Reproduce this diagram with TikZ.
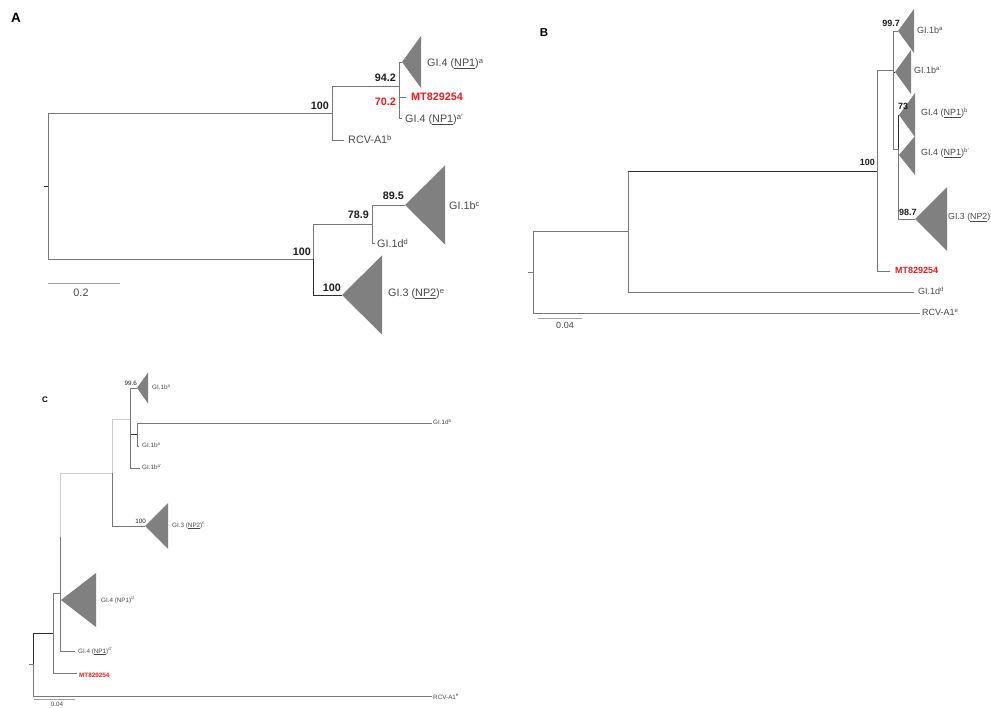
\documentclass[tikz,border=0pt]{standalone}
\usepackage{fontspec}
\setmainfont{Liberation Sans}
\definecolor{ln}{RGB}{120,120,120}
\definecolor{lnlight}{RGB}{205,205,205}
\definecolor{lndark}{RGB}{45,45,45}
\definecolor{scalegray}{RGB}{160,160,160}
\definecolor{cladefill}{RGB}{128,128,128}
\definecolor{tx}{RGB}{72,72,72}
\definecolor{bt}{RGB}{30,30,30}
\definecolor{mt}{RGB}{238,28,28}
\newcommand\fsA{\fontsize{10.8}{12}\selectfont}
\newcommand\fsB{\fontsize{9}{10}\selectfont}
\newcommand\fsC{\fontsize{6.3}{7}\selectfont}
\newcommand\spx[1]{\textsuperscript{#1}}
\begin{document}
\begin{tikzpicture}[x=1pt,y=-1pt,
  branch/.style={draw=ln,line width=0.9pt},
  branchdark/.style={draw=lndark,line width=0.9pt},
  branchC/.style={draw=ln,line width=0.6pt},
  branchClight/.style={draw=lnlight,line width=0.6pt},
  branchCdark/.style={draw=lndark,line width=0.6pt},
  scalebar/.style={draw=scalegray,line width=0.9pt},
  clade/.style={fill=cladefill},
  leaf/.style={anchor=base west,inner sep=0pt,text=tx},
  labA/.style={leaf,font=\fsA},
  labB/.style={leaf,font=\fsB},
  labC/.style={leaf,font=\fsC},
  bootA/.style={anchor=base east,inner sep=0pt,text=bt,font=\fsA\bfseries},
  bootB/.style={anchor=base east,inner sep=0pt,text=bt,font=\fsB\bfseries},
  bootC/.style={anchor=base east,inner sep=0pt,text=bt,font=\fsC},
  mtlab/.style={text=mt,font=#1\bfseries},
  panel/.style={inner sep=0pt,font=\bfseries,text=black}]
\useasboundingbox[fill=white] (0,0) rectangle (991,708);

% ---------------- Panel A ----------------
\node[panel,font=\bfseries\fontsize{13.5}{14}\selectfont] (pA) at (16,17.5) {A};
\coordinate (rA) at (48,186);
\coordinate (nA1) at (332,113);
\coordinate (nA2) at (399,86);
\coordinate (nA3) at (313,259);
\coordinate (nA4) at (372,224);
\coordinate (tA1) at (402,62);
\coordinate (tA2) at (405,205);
\coordinate (tA3) at (342,295);
\coordinate (fA1) at (406,97);
\coordinate (fA2) at (402,118);
\coordinate (fA3) at (344,140);
\coordinate (fA4) at (375,243);

\draw[branchdark] (rA) -- ++(-4,0);
\draw[branch] (rA) |- (nA1);
\draw[branch] (rA) |- (nA3);
\draw[branch] (nA1) |- (nA2);
\draw[branch] (nA1) |- (fA3);
\draw[branch] (nA2) |- (tA1);
\draw[branch] (nA2) |- (fA1);
\draw[branch] (nA2) |- (fA2);
\draw[branch] (nA3) |- (nA4);
\draw[branchdark] (nA3) |- (tA3);
\draw[branch] (nA4) |- (tA2);
\draw[branch] (nA4) |- (fA4);

\path[clade] (tA1) -- ++(19,-26) -- ++(0,52) -- cycle;
\path[clade] (tA2) -- ++(40,-39.5) -- ++(0,79) -- cycle;
\path[clade] (tA3) -- ++(40,-39.5) -- ++(0,79) -- cycle;

\node[labA] (xA1) at (427,67) {GI.4 (\underline{NP1})\spx{a}};
\node[labA,mtlab=\fsA] (xA2) at (411,101) {MT829254};
\node[labA] (xA3) at (405,123) {GI.4 (\underline{NP1})\spx{a'}};
\node[labA] (xA4) at (348,144) {RCV-A1\spx{b}};
\node[labA] (xA5) at (449,210) {GI.1b\spx{c}};
\node[labA] (xA6) at (377,248) {GI.1d\spx{d}};
\node[labA] (xA7) at (388,297) {GI.3 (\underline{NP2})\spx{e}};

\node[bootA] (bA1) at (329,110) {100};
\node[bootA] (bA2) at (396,82) {94.2};
\node[bootA,text=mt] (bA3) at (396,106) {70.2};
\node[bootA] (bA4) at (311,256) {100};
\node[bootA] (bA5) at (369,219) {78.9};
\node[bootA] (bA6) at (404,200) {89.5};
\node[bootA] (bA7) at (341,292) {100};

\coordinate (sA0) at (48,283);
\coordinate (sA1) at (120,283);
\draw[scalebar] (sA0) -- (sA1);
\node[labA,anchor=base] (sAt) at (81,297) {0.2};

% ---------------- Panel B ----------------
\node[panel,font=\bfseries\fontsize{11.5}{12}\selectfont] (pB) at (544,33) {B};
\coordinate (rB) at (533,272);
\coordinate (nB1) at (628,231);
\coordinate (nB2) at (877,171);
\coordinate (nB3) at (893,70);
\coordinate (nB4) at (898,149);
\coordinate (tB1) at (898,31);
\coordinate (tB2) at (895,72);
\coordinate (tB3) at (899,115);
\coordinate (tB4) at (899,155);
\coordinate (tB5) at (915,219);
\coordinate (fB1) at (890,271);
\coordinate (fB2) at (914,292);
\coordinate (fB3) at (920,313);

\draw[branch] (rB) -- ++(-5,0);
\draw[branch] (rB) |- (nB1);
\draw[branch] (rB) |- (fB3);
\draw[branch] (nB1) |- (fB2);
\draw[branch] (nB1) |- (nB2);
\draw[branchdark] (nB1 |- nB2) -- (nB2);
\draw[branch] (nB2) |- (nB3);
\draw[branch] (nB2) |- (fB1);
\draw[branch] (nB3) |- (tB1);
\draw[branchdark] (nB3) |- (tB2);
\draw[branch] (nB3) |- (nB4);
\draw[branchdark] (nB4) |- (tB3);
\draw[branchdark] (nB4) |- (tB4);
\draw[branch] (nB4) |- (tB5);

\path[clade] (tB1) -- ++(16,-22) -- ++(0,44) -- cycle;
\path[clade] (tB2) -- ++(16,-22) -- ++(0,44) -- cycle;
\path[clade] (tB3) -- ++(16,-22) -- ++(0,44) -- cycle;
\path[clade] (tB4) -- ++(16,-19) -- ++(0,39) -- cycle;
\path[clade] (tB5) -- ++(32,-32) -- ++(0,64) -- cycle;

\node[labB] (xB1) at (917,34) {GI.1b\spx{a}};
\node[labB] (xB2) at (914,74) {GI.1b\spx{a'}};
\node[labB] (xB3) at (921,116) {GI.4 (\underline{NP1})\spx{b}};
\node[labB] (xB4) at (921,156) {GI.4 (\underline{NP1})\spx{b'}};
\node[labB,font=\fontsize{8.8}{10}\selectfont] (xB5) at (948,220) {GI.3 (\underline{NP2})};
\node[labB,mtlab=\fsB] (xB6) at (895,274) {MT829254};
\node[labB] (xB7) at (918,295) {GI.1d\spx{d}};
\node[labB] (xB8) at (922,316) {RCV-A1\spx{e}};

\node[bootB] (bB1) at (900,27) {99.7};
\node[bootB,anchor=base west] (bB2) at (898,110) {73};
\node[bootB] (bB3) at (875,166) {100};
\node[bootB,anchor=base west] (bB4) at (899,216) {98.7};

\coordinate (sB0) at (538,318);
\coordinate (sB1) at (582,318);
\draw[scalebar] (sB0) -- (sB1);
\node[labB,anchor=base] (sBt) at (565,329) {0.04};

% ---------------- Panel C ----------------
\node[panel,font=\bfseries\fontsize{8}{9}\selectfont] (pC) at (45,400) {C};
\coordinate (rC) at (33,664);
\coordinate (nC1) at (53,633);
\coordinate (nC2) at (60,593);
\coordinate (nC3) at (112,473);
\coordinate (nC4) at (130,419);
\coordinate (nC5) at (137,434);
\coordinate (tC1) at (137,388);
\coordinate (tC2) at (145,526);
\coordinate (tC3) at (61,600);
\coordinate (fC1) at (432,423);
\coordinate (fC2) at (139,446);
\coordinate (fC3) at (140,468);
\coordinate (fC4) at (75,651);
\coordinate (fC5) at (77,673);
\coordinate (fC6) at (432,696);

\draw[branchC] (rC) -- ++(-4,0);
\draw[branchCdark] (rC) |- (nC1);
\draw[branchC] (rC) |- (fC6);
\draw[branchC] (nC1) |- (nC2);
\draw[branchC] (nC1) |- (fC5);
\draw[branchClight] (nC2) |- (nC3);
\draw[branchC] (nC2) -- ++(0,-56);
\draw[branchC] (nC2) |- (tC3);
\draw[branchC] (nC2) |- (fC4);
\draw[branchClight] (nC3) |- (nC4);
\draw[branchC] (nC3) |- (tC2);
\draw[branchC] (nC4) |- (tC1);
\draw[branchCdark] (nC4) |- (nC5);
\draw[branchC] (nC4) |- (fC3);
\draw[branchC] (nC5) |- (fC1);
\draw[branchC] (nC5) |- (fC2);

\path[clade] (tC1) -- ++(11,-15.5) -- ++(0,31) -- cycle;
\path[clade] (tC2) -- ++(23,-23) -- ++(0,46) -- cycle;
\path[clade] (tC3) -- ++(35,-27) -- ++(0,54) -- cycle;

\node[labC] (xC1) at (152,390) {GI.1b\spx{a}};
\node[labC] (xC2) at (433,425) {GI.1d\spx{b}};
\node[labC] (xC3) at (142,448) {GI.1b\spx{a}};
\node[labC] (xC4) at (142,470) {GI.1b\spx{a'}};
\node[labC] (xC5) at (172,527) {GI.3 (\underline{NP2})\spx{c}};
\node[labC] (xC6) at (101,602) {GI.4 (NP1)\spx{d}};
\node[labC] (xC7) at (78,653) {GI.4 (\underline{NP1})\spx{d'}};
\node[labC,mtlab=\fsC] (xC8) at (79,677) {MT829254};
\node[labC] (xC9) at (433,699) {RCV-A1\spx{e}};

\node[bootC] (bC1) at (137,386) {99.6};
\node[bootC] (bC2) at (146,523) {100};

\coordinate (sC0) at (34,699);
\coordinate (sC1) at (75,699);
\draw[scalebar,line width=0.6pt] (sC0) -- (sC1);
\node[labC,anchor=base] (sCt) at (57,706.5) {0.04};
\end{tikzpicture}
\end{document}
